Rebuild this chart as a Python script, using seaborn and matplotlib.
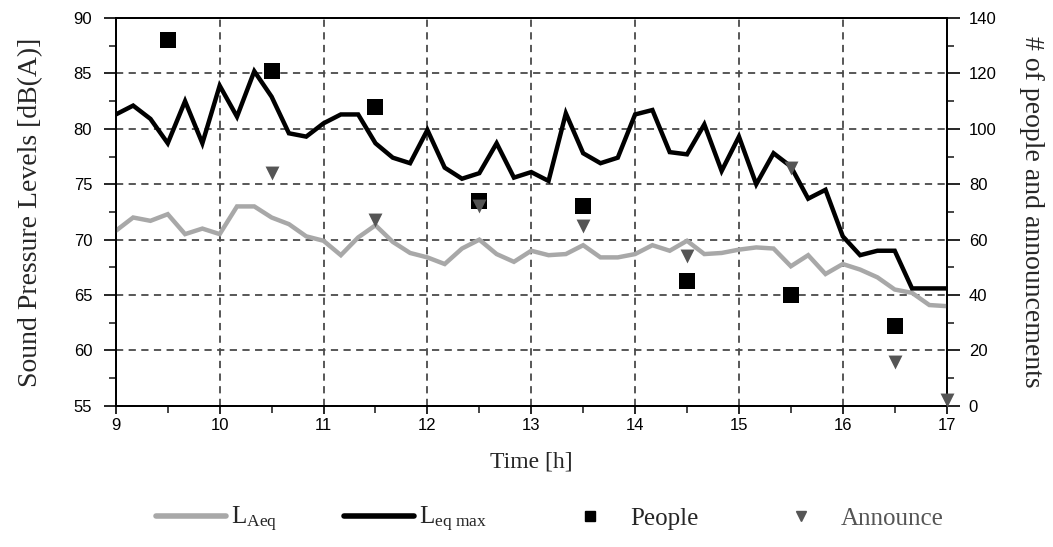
import numpy as np
import pandas as pd
import matplotlib
matplotlib.use("Agg")
import matplotlib.pyplot as plt
from matplotlib.lines import Line2D
from matplotlib.ticker import MultipleLocator
import seaborn as sns

# ---------------- data ----------------
time_h = [9 + i / 6 for i in range(49)]

laeq = [70.8, 72.0, 71.7, 72.3, 70.5, 71.0, 70.5, 73.0, 73.0, 72.0,
        71.4, 70.3, 69.9, 68.6, 70.2, 71.3, 69.8, 68.8, 68.4, 67.8,
        69.2, 70.0, 68.7, 68.0, 69.0, 68.6, 68.7, 69.5, 68.4, 68.4,
        68.7, 69.5, 69.0, 69.9, 68.7, 68.8, 69.1, 69.3, 69.2, 67.6,
        68.6, 66.9, 67.8, 67.3, 66.6, 65.5, 65.2, 64.1, 64.0]

leq_max = [81.3, 82.1, 80.9, 78.7, 82.5, 78.7, 83.9, 81.1, 85.2, 82.9,
           79.6, 79.3, 80.5, 81.3, 81.3, 78.7, 77.4, 76.9, 79.9, 76.5,
           75.5, 76.0, 78.7, 75.6, 76.1, 75.3, 81.4, 77.8, 76.9, 77.4,
           81.3, 81.7, 77.9, 77.7, 80.4, 76.2, 79.3, 75.0, 77.8, 76.6,
           73.7, 74.5, 70.3, 68.6, 69.0, 69.0, 65.6, 65.6, 65.6]

people_time = [9.5, 10.5, 11.5, 12.5, 13.5, 14.5, 15.5, 16.5]
people = [132, 121, 108, 74, 72, 45, 40, 29]

announce_time = [10.5, 11.5, 12.5, 13.5, 14.5, 15.5, 16.5, 17.0]
announce = [84, 67, 72, 65, 54, 86, 16, 2]

x_ticks = [9, 10, 11, 12, 13, 14, 15, 16, 17]
left_ticks = [55, 60, 65, 70, 75, 80, 85, 90]
right_ticks = [0, 20, 40, 60, 80, 100, 120, 140]

# ---------------- style ----------------
sns.set_theme(style="white")
plt.rcParams["font.family"] = ["Liberation Sans", "DejaVu Sans"]
plt.rcParams["mathtext.fontset"] = "custom"
plt.rcParams["mathtext.rm"] = "Liberation Serif"
plt.rcParams["mathtext.it"] = "Liberation Serif:italic"

SERIF = ["Liberation Serif", "DejaVu Serif"]
GRAY_LINE = "#a8a8a8"
TRI_COLOR = "#555555"
GRID_COLOR = "#4a4a4a"

fig = plt.figure(figsize=(10.53, 5.47), dpi=100)
ax = fig.add_axes([0.110, 0.258, 0.789, 0.709])

df_lines = pd.DataFrame({"time": time_h, "LAeq": laeq, "Leqmax": leq_max})

sns.lineplot(data=df_lines, x="time", y="LAeq", ax=ax, color=GRAY_LINE,
             lw=3.2, zorder=3, solid_joinstyle="miter")
sns.lineplot(data=df_lines, x="time", y="Leqmax", ax=ax, color="black",
             lw=3.2, zorder=4, solid_joinstyle="miter")

ax.set_xlim(9, 17)
ax.set_ylim(55, 90)
ax.set_xticks(x_ticks)
ax.set_yticks(left_ticks)
ax.xaxis.set_minor_locator(MultipleLocator(0.5))
ax.yaxis.set_minor_locator(MultipleLocator(2.5))
ax.grid(True, which="major", color=GRID_COLOR, linestyle=(0, (4, 3)), lw=1.3)
ax.set_axisbelow(True)

for s in ["left", "bottom", "top", "right"]:
    ax.spines[s].set_color("black")
    ax.spines[s].set_linewidth(1.3)

ax.tick_params(axis="y", which="major", direction="out", length=9, width=1.2,
               left=True, labelsize=12, pad=8, colors="black")
ax.tick_params(axis="y", which="minor", direction="out", length=5, width=1.2, left=True)
ax.tick_params(axis="x", which="major", direction="out", length=6, width=1.2,
               bottom=True, labelsize=12, pad=3, colors="black")
ax.tick_params(axis="x", which="minor", direction="out", length=5, width=1.2, bottom=True)

ax.set_xlabel("Time [h]", family=SERIF, fontsize=17, labelpad=13)
ax.set_ylabel("Sound Pressure Levels [dB(A)]", family=SERIF, fontsize=20, labelpad=22)

# ---------------- right axis ----------------
ax2 = ax.twinx()
df_people = pd.DataFrame({"time": people_time, "n": people})
df_ann = pd.DataFrame({"time": announce_time, "n": announce})

sns.scatterplot(data=df_people, x="time", y="n", ax=ax2, marker="s", s=120,
                color="black", edgecolor="black", linewidth=0, zorder=5, clip_on=False)
sns.scatterplot(data=df_ann, x="time", y="n", ax=ax2, marker="v", s=100,
                color=TRI_COLOR, edgecolor=TRI_COLOR, linewidth=0, zorder=5, clip_on=False)

ax2.set_ylim(0, 140)
ax2.set_xlim(9, 17)
ax2.set_yticks(right_ticks)
ax2.yaxis.set_minor_locator(MultipleLocator(10))
ax2.tick_params(axis="y", which="major", direction="out", length=9, width=1.2,
                right=True, labelsize=12, pad=7, colors="black")
ax2.tick_params(axis="y", which="minor", direction="out", length=5, width=1.2, right=True)
ax2.grid(False)
ax2.set_ylabel("# of people and announcements", family=SERIF, fontsize=20,
               rotation=270, labelpad=34)
ax2.set_xlabel("")
for s in ["left", "bottom", "top", "right"]:
    ax2.spines[s].set_color("black")
    ax2.spines[s].set_linewidth(1.3)

# ---------------- legend ----------------
handles = [
    Line2D([], [], color=GRAY_LINE, lw=4),
    Line2D([], [], color="black", lw=4),
    Line2D([], [], color="black", marker="s", ls="none", markersize=7),
    Line2D([], [], color=TRI_COLOR, marker="v", ls="none", markersize=7),
]
labels = [r"L$_{\mathregular{Aeq}}$", r"L$_{\mathregular{eq\ max}}$", "People", "Announce"]
leg = fig.legend(handles, labels, loc="center", bbox_to_anchor=(0.522, 0.05),
                 ncol=4, frameon=False, handlelength=2.8, handletextpad=0.2,
                 columnspacing=2.7, prop={"family": SERIF, "size": 18})
leg.get_texts()[3].set_color(TRI_COLOR)

fig.savefig("out.png", dpi=100)
